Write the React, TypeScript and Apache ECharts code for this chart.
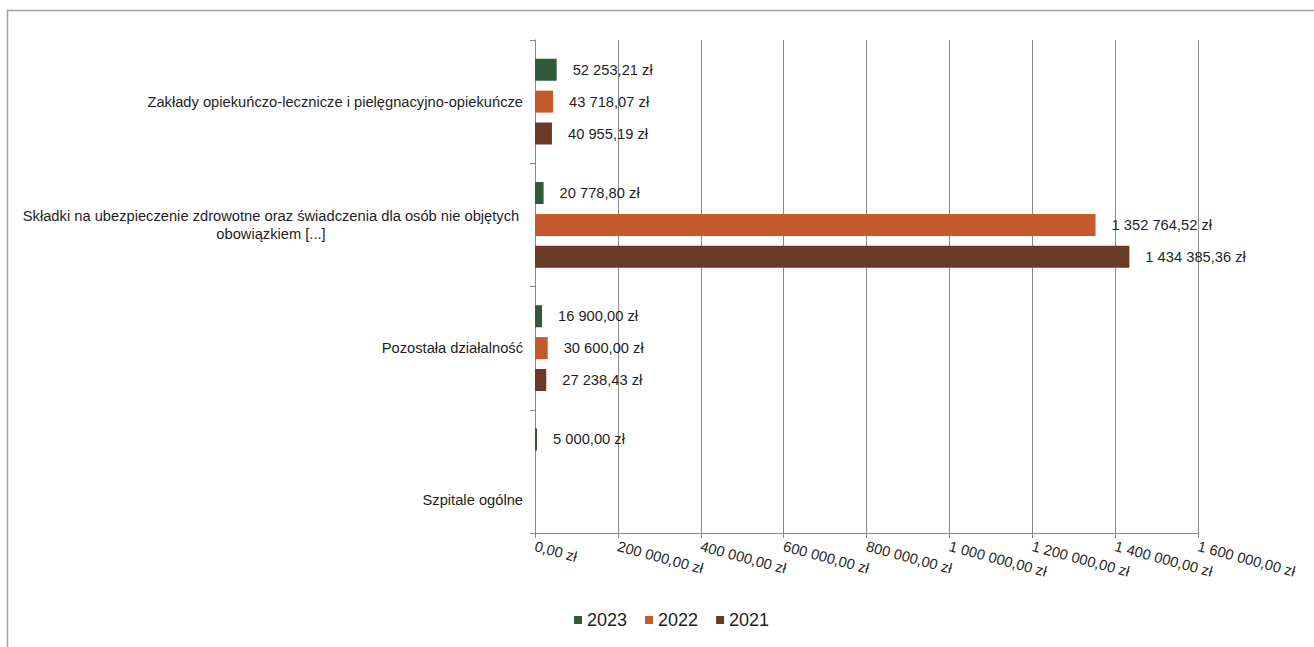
import React, { useEffect, useRef } from "react";
import * as echarts from "echarts";

const categories = [
  "Zakłady opiekuńczo-lecznicze i pielęgnacyjno-opiekuńcze",
  "Składki na ubezpieczenie zdrowotne oraz świadczenia dla osób nie objętych\nobowiązkiem [...]",
  "Pozostała działalność",
  "Szpitale ogólne",
];
const seriesNames = ["2023", "2022", "2021"];
const values2023 = [52253.21, 20778.8, 16900.0, 5000.0];
const values2022 = [43718.07, 1352764.52, 30600.0, null];
const values2021 = [40955.19, 1434385.36, 27238.43, null];
const axisTicks = [0, 200000, 400000, 600000, 800000, 1000000, 1200000, 1400000, 1600000];
const colors = ["#2f5b3c", "#c4592c", "#6b3a27"];

function fmt(v: number): string {
  const [i, d] = v.toFixed(2).split(".");
  const int = i.replace(/\B(?=(\d{3})+(?!\d))/g, " ");
  return `${int},${d} zł`;
}

export default function App() {
  const ref = useRef<HTMLDivElement>(null);
  useEffect(() => {
    if (!ref.current) return;
    const chart = echarts.init(ref.current, undefined, { renderer: "svg" });
    const all = [values2023, values2022, values2021];
    const fs = 14.7;
    chart.setOption({
      animation: false,
      backgroundColor: "#ffffff",
      textStyle: { fontFamily: "Liberation Sans, Arial, sans-serif" },
      graphic: [
        {
          type: "rect",
          shape: { x: 7.5, y: 10.5, width: 1400, height: 700 },
          style: { fill: "none", stroke: "#a0a0a0", lineWidth: 1.5 },
          silent: true,
        },
      ],
      legend: {
        bottom: 13,
        left: 569,
        itemWidth: 8,
        itemHeight: 8,
        itemGap: 18,
        icon: "rect",
        textStyle: { fontSize: 18, color: "#1e1e1e" },
        data: seriesNames,
      },
      grid: { left: 535, right: 116, top: 40, bottom: 114, containLabel: false },
      xAxis: {
        type: "value",
        min: axisTicks[0],
        max: axisTicks[axisTicks.length - 1],
        interval: axisTicks[1] - axisTicks[0],
        axisLine: { show: true, lineStyle: { color: "#8a8a8a", width: 1 } },
        axisTick: { show: true, length: 5, lineStyle: { color: "#8a8a8a" } },
        splitLine: { show: true, lineStyle: { color: "#8a8a8a", width: 1 } },
        axisLabel: {
          rotate: -15,
          margin: 13,
          fontSize: fs,
          color: "#1e1e1e",
          formatter: (v: number) => fmt(v),
        },
      },
      yAxis: {
        type: "category",
        inverse: true,
        data: categories.map((c, i) =>
          i === 3 ? { value: c, textStyle: { padding: [58, 0, 0, 0] } } : c
        ),
        axisLine: { show: true, lineStyle: { color: "#8a8a8a", width: 1 } },
        axisTick: { show: true, length: 5, lineStyle: { color: "#8a8a8a" } },
        axisLabel: {
          margin: 12,
          fontSize: fs,
          color: "#1e1e1e",
          lineHeight: 18,
          formatter: (v: string) =>
            v.includes("\n")
              ? v
                  .split("\n")
                  .map((l) => `{c|${l}}`)
                  .join("\n")
              : v,
          rich: { c: { width: 504, align: "center", fontSize: fs, color: "#1e1e1e", lineHeight: 18 } },
        },
      },
      series: seriesNames.map((name, si) => ({
        name,
        type: "bar",
        barWidth: 22,
        barGap: "45%",
        itemStyle: { color: colors[si] },
        label: {
          show: true,
          position: "right",
          distance: 16,
          fontSize: fs,
          color: "#1e1e1e",
          formatter: (p: any) => (p.value == null ? "" : fmt(p.value)),
        },
        data: all[si],
      })),
    });
    return () => chart.dispose();
  }, []);
  return (
    <div
      ref={ref}
      style={{ position: "fixed", left: 0, top: 0, width: 1314, height: 647 }}
    />
  );
}
